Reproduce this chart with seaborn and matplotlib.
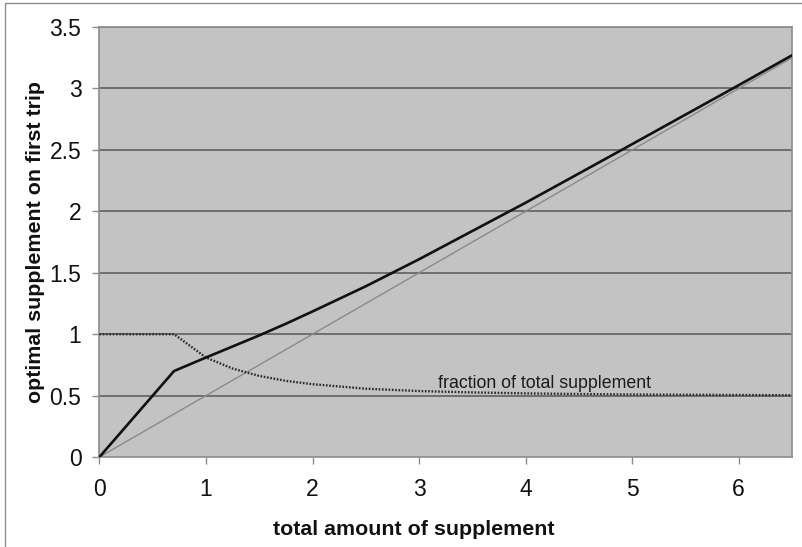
import matplotlib
matplotlib.use("Agg")
import matplotlib.pyplot as plt
import seaborn as sns
import pandas as pd
from matplotlib.patches import Rectangle

# total amount of supplement (x) and the optimal amount taken on the first trip
total_supplement = [0.0, 0.7, 1.0, 1.25, 1.5, 1.75, 2.0, 2.5, 3.0, 3.5, 4.0,
                    4.5, 5.0, 5.5, 6.0, 6.5]
first_trip = [0.0, 0.70, 0.81, 0.90, 0.99, 1.085, 1.185, 1.39, 1.61, 1.84,
              2.07, 2.308, 2.547, 2.787, 3.027, 3.27]
# fraction of the total taken on the first trip
fraction = [1.0, 1.0, 0.81, 0.72, 0.66, 0.62, 0.593, 0.556, 0.537, 0.526,
            0.518, 0.513, 0.509, 0.507, 0.505, 0.503]
# reference line: half of the total
half_x = [0.0, 6.5]
half_y = [0.0, 3.25]

x_ticks = [0, 1, 2, 3, 4, 5, 6]
y_ticks = [0, 0.5, 1, 1.5, 2, 2.5, 3, 3.5]
y_tick_labels = ["0", "0.5", "1", "1.5", "2", "2.5", "3", "3.5"]

sns.set_theme(style="white")
plt.rcParams["font.family"] = ["Liberation Sans", "DejaVu Sans"]

fig = plt.figure(figsize=(8.02, 5.47), dpi=100)
ax = fig.add_axes([0.124, 0.1645, 0.8635, 0.786])
ax.set_facecolor("#c3c3c3")

# outer chart border
fig.patches.append(Rectangle((5 / 802, -0.01), 1.0, 1 - 3 / 547 + 0.01,
                             transform=fig.transFigure, fill=False,
                             edgecolor="#8c8c8c", linewidth=1.0, zorder=0))

for yv in y_ticks[1:]:
    ax.axhline(yv, color="#6e6e6e", linewidth=1.4, zorder=1)

df_main = pd.DataFrame({"x": total_supplement, "y": first_trip})
df_frac = pd.DataFrame({"x": total_supplement, "y": fraction})
df_half = pd.DataFrame({"x": half_x, "y": half_y})

sns.lineplot(data=df_half, x="x", y="y", ax=ax, color="#8a8a8a",
             linewidth=1.0, zorder=2)
sns.lineplot(data=df_frac, x="x", y="y", ax=ax, color="#2a2a2a",
             linewidth=1.7, linestyle=(0, (0.7, 0.7)), zorder=3)
sns.lineplot(data=df_main, x="x", y="y", ax=ax, color="#111111",
             linewidth=1.9, zorder=4)

ax.text(3.18, 0.56, "fraction of total supplement", fontsize=12.8,
        color="#1a1a1a", ha="left", va="baseline")

ax.set_xlim(0, 6.5)
ax.set_ylim(0, 3.5)
ax.set_xticks(x_ticks)
ax.set_xticklabels([str(t) for t in x_ticks])
ax.set_yticks(y_ticks)
ax.set_yticklabels(y_tick_labels)
ax.tick_params(axis="both", which="major", direction="out", length=5,
               width=1.0, color="#8c8c8c", labelsize=16.5, labelcolor="#111111",
               left=True, bottom=True)
ax.tick_params(axis="x", pad=10)
ax.tick_params(axis="y", pad=8)

for side, sp in ax.spines.items():
    sp.set_visible(True)
    sp.set_color("#8c8c8c")
    sp.set_linewidth(1.2)

ax.set_xlabel("total amount of supplement", fontsize=15.4, fontweight="bold",
              color="#111111")
ax.xaxis.set_label_coords(0.454, -0.146)
ax.set_ylabel("optimal supplement on first trip", fontsize=15.4,
              fontweight="bold", color="#111111", labelpad=3)

fig.savefig("out.png", dpi=100)
